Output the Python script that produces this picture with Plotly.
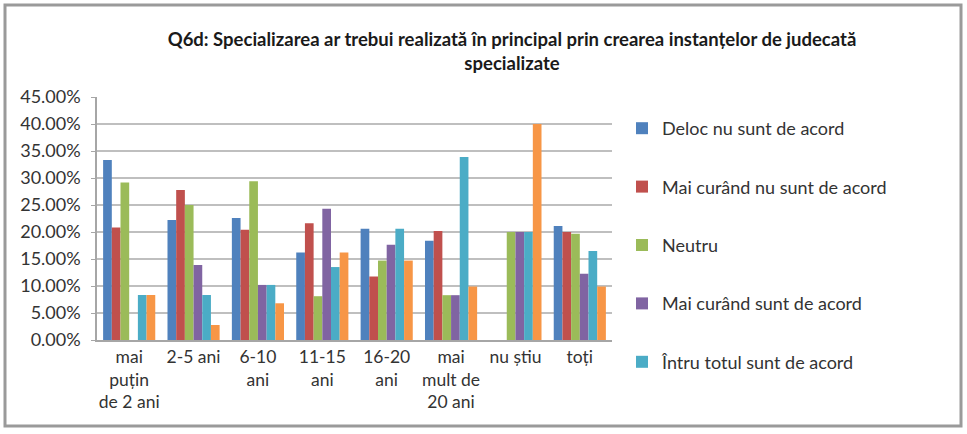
import plotly.graph_objects as go

categories = ["mai<br>puțin<br>de 2 ani", "2-5 ani", "6-10<br>ani", "11-15<br>ani",
              "16-20<br>ani", "mai<br>mult de<br>20 ani", "nu știu", "toți"]

series_names = ["Deloc nu sunt de acord", "Mai curând nu sunt de acord", "Neutru",
                "Mai curând sunt de acord", "Întru totul sunt de acord", "Nu știu"]

deloc = [0.3333, 0.2222, 0.2258, 0.1622, 0.2059, 0.1837, 0.0, 0.2110]
mai_curand_nu = [0.2083, 0.2778, 0.2040, 0.2162, 0.1176, 0.2020, 0.0, 0.2000]
neutru = [0.2917, 0.2500, 0.2940, 0.0811, 0.1471, 0.0830, 0.2000, 0.1967]
mai_curand = [0.0, 0.1389, 0.1020, 0.2432, 0.1765, 0.0830, 0.2000, 0.1227]
intru_totul = [0.0833, 0.0833, 0.1020, 0.1351, 0.2059, 0.3390, 0.2000, 0.1646]
nu_stiu = [0.0833, 0.0278, 0.0680, 0.1622, 0.1471, 0.0990, 0.4000, 0.0990]

values = [deloc, mai_curand_nu, neutru, mai_curand, intru_totul, nu_stiu]
colors = ["#4F81BD", "#C0504D", "#9BBB59", "#8064A2", "#4BACC6", "#F79646"]

FONT = "Lato"

fig = go.Figure()
for i, (name, vals, col) in enumerate(zip(series_names, values, colors)):
    fig.add_trace(go.Bar(
        x=categories, y=vals, name=name, marker_color=col,
        marker_line_width=0, legendgroup=str(i),
        showlegend=(i < 5),
    ))

L, R, T, B = 97, 355, 97, 94
W, H = 967, 434
pw, ph = W - L - R, H - T - B

def px(x):
    return (x - L) / pw

def py(y):
    return (H - B - y) / ph

fig.update_layout(
    width=W, height=H,
    margin=dict(l=L, r=R, t=T, b=B),
    paper_bgcolor="white", plot_bgcolor="white",
    barmode="group", bargap=0.19, bargroupgap=0,
    font=dict(family=FONT, size=18, color="#222222"),
    title=dict(
        text="<b>Q6d: Specializarea ar trebui realizată în principal prin crearea instanțelor de judecată<br>specializate</b>",
        x=512 / W, xanchor="center", xref="container",
        y=1 - 46 / H, yanchor="middle", yref="container",
        font=dict(family=FONT, size=18.5, color="#1a1a1a"),
    ),
    legend=dict(
        x=px(622), xanchor="left", y=py(110), yanchor="top",
        font=dict(family=FONT, size=18, color="#333333"),
        traceorder="grouped", tracegroupgap=32,
        itemwidth=30, bgcolor="rgba(0,0,0,0)", maxheight=420,
    ),
    xaxis=dict(
        showgrid=False, showline=True, linecolor="#a6a6a6", linewidth=1.5,
        ticks="", tickfont=dict(family=FONT, size=17.5, color="#333333"),
        tickangle=0,
    ),
    yaxis=dict(
        range=[0, 0.45], dtick=0.05, tickformat=".2%",
        showgrid=True, gridcolor="#bfbfbf", gridwidth=1.5,
        showline=True, linecolor="#a6a6a6", linewidth=1.5,
        ticks="outside", ticklen=4, tickcolor="#a6a6a6",
        ticklabelstandoff=7,
        tickfont=dict(family=FONT, size=18, color="#333333"),
        zeroline=False,
    ),
    shapes=[dict(
        type="rect", xref="paper", yref="paper",
        x0=px(5), x1=px(961), y0=py(426), y1=py(5),
        line=dict(color="#9a9a9a", width=3), fillcolor="rgba(0,0,0,0)",
        layer="below",
    )],
)

fig.write_html("out.html", config={"displayModeBar": False},
               post_script="document.body.style.margin='0';document.body.style.overflow='hidden';")
